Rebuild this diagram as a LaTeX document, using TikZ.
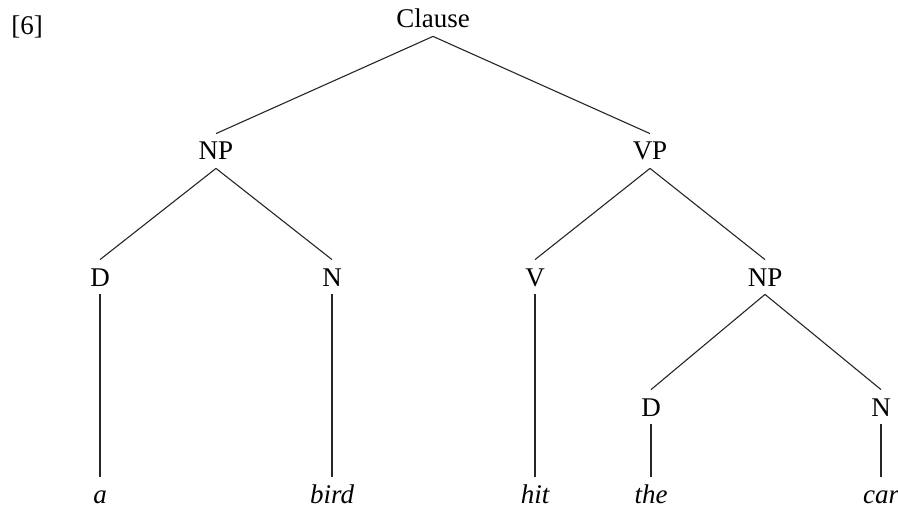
\documentclass[tikz,border=0pt]{standalone}
\usepackage{fontspec}
\setmainfont{Liberation Serif}

\begin{document}
\begin{tikzpicture}[
    x=0.5pt, y=-0.5pt,
    cat/.style={inner xsep=1pt,inner ysep=4pt,text height=9pt,text depth=0pt,
      font=\fontsize{13.5}{16}\selectfont},
    word/.style={cat,font=\fontsize{13.5}{16}\selectfont\itshape},
    branch/.style={draw=black!85,line width=0.55pt}
    ]
    \useasboundingbox (0,0) rectangle (898,507);
    \node[cat,anchor=west] (ex) at (9,26) {[6]};
    \node[cat] (clause) at (433,19) {Clause};
    \node[cat] (np) at (216,151) {NP};
    \node[cat] (vp) at (650,151) {VP};
    \node[cat] (d) at (100,277) {D};
    \node[cat] (n) at (332,277) {N};
    \node[cat] (v) at (535,277) {V};
    \node[cat] (npb) at (765,277) {NP};
    \node[cat] (db) at (651,407) {D};
    \node[cat] (nb) at (881,407) {N};
    \node[word] (a) at (100,494) {a};
    \node[word] (bird) at (332,494) {bird};
    \node[word] (hit) at (535,494) {hit};
    \node[word] (the) at (651,494) {the};
    \node[word] (car) at (881,494) {car};
    \draw[branch] (clause.south) -- (np.north);
    \draw[branch] (clause.south) -- (vp.north);
    \draw[branch] (np.south) -- (d.north);
    \draw[branch] (np.south) -- (n.north);
    \draw[branch] (vp.south) -- (v.north);
    \draw[branch] (vp.south) -- (npb.north);
    \draw[branch] (npb.south) -- (db.north);
    \draw[branch] (npb.south) -- (nb.north);
    \draw[branch] (d.south) -- (a.north);
    \draw[branch] (n.south) -- (bird.north);
    \draw[branch] (v.south) -- (hit.north);
    \draw[branch] (db.south) -- (the.north);
    \draw[branch] (nb.south) -- (car.north);
  \end{tikzpicture}
\end{document}
